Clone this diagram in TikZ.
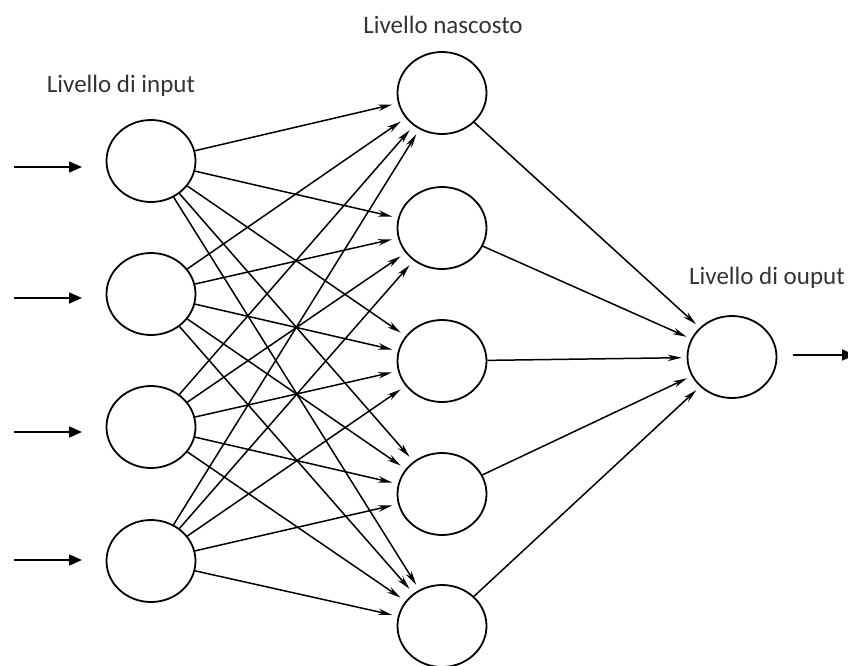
\documentclass[tikz,border=0pt]{standalone}
\usepackage{fontspec}
\setmainfont{Carlito}
\usetikzlibrary{shapes.geometric,arrows.meta}
\begin{document}
\begin{tikzpicture}[x=1pt,y=-1pt,
  neuron/.style={draw=black,line width=1.8pt,ellipse,minimum width=89pt,minimum height=82pt,inner sep=0pt},
  conn/.style={draw=black,line width=1.5pt,-{Stealth[length=14pt,width=6.5pt]}},
  feed/.style={draw=black,line width=1.6pt,-{Triangle[length=13pt,width=11pt]}},
  lbl/.style={text=black!80,font=\fontsize{25}{28}\selectfont,inner sep=0pt}]
\useasboundingbox (0,0) rectangle (848,666);
% input layer
\node[neuron] (i1) at (151,161) {};
\node[neuron] (i2) at (151,294) {};
\node[neuron] (i3) at (151,427) {};
\node[neuron] (i4) at (151,561) {};
% hidden layer
\node[neuron] (h1) at (442,93) {};
\node[neuron] (h2) at (442,228) {};
\node[neuron] (h3) at (442,361) {};
\node[neuron] (h4) at (442,494) {};
\node[neuron] (h5) at (442,626) {};
% output
\node[neuron] (o) at (732,357) {};
% labels
\node[lbl] (li) at (121,86) {Livello di input};
\node[lbl] (lh) at (443,25) {Livello nascosto};
\node[lbl] (lo) at (767,278) {Livello di ouput};
% input arrows
\foreach \n/\y in {1/167,2/298,3/432,4/560}{
  \coordinate (a\n) at (14,\y);
  \coordinate (b\n) at (82,\y);
  \draw[feed] (a\n) -- (b\n);
}
% input -> hidden
\foreach \i in {1,...,4}{
  \foreach \h in {1,...,5}{
    \draw[conn,shorten >=6pt] (i\i) -- (h\h);
  }
}
% hidden -> output
\foreach \h in {1,...,5}{
  \draw[conn,shorten >=5pt] (h\h) -- (o);
}
% output arrow
\coordinate (oa) at (793,355);
\coordinate (ob) at (855,355);
\draw[feed] (oa) -- (ob);
\end{tikzpicture}
\end{document}
